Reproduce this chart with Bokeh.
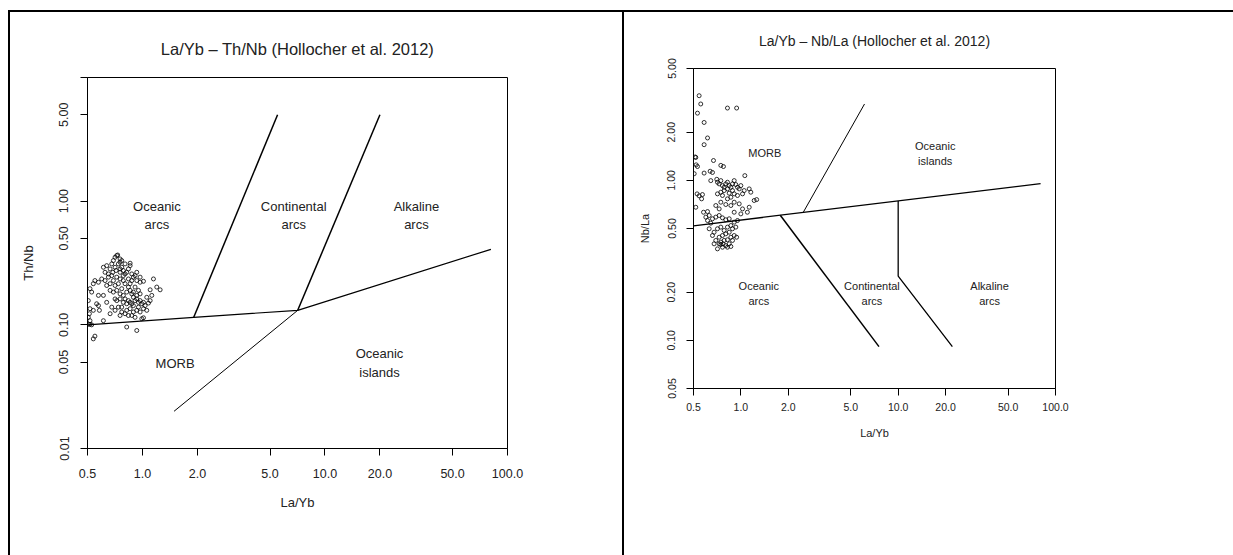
from bokeh.plotting import figure
from bokeh.layouts import row
from bokeh.models import FixedTicker, PrintfTickFormatter, Title, Range1d
from bokeh.core.properties import value
from bokeh.embed import file_html
from bokeh.resources import INLINE

FONT = "Liberation Sans"

# ---------------- data: left panel (La/Yb vs Th/Nb) ----------------
left_title = "La/Yb \u2013 Th/Nb (Hollocher et al. 2012)"
left_xlabel = "La/Yb"
left_ylabel = "Th/Nb"
x_ticks = [0.5, 1, 2, 5, 10, 20, 50, 100]
left_y_ticks = [0.01, 0.05, 0.1, 0.5, 1, 5, 10]

left_div_x = [0.5, 1.91, 7.09, 81.1]
left_div_y = [0.1, 0.115, 0.131, 0.408]
left_cont_x = [1.91, 5.5]
left_cont_y = [0.115, 5.0]
left_alk_x = [7.09, 20.0]
left_alk_y = [0.131, 5.0]
left_oib_x = [7.09, 1.49]
left_oib_y = [0.131, 0.02]

left_field_names = ["Oceanic\narcs", "Continental\narcs", "Alkaline\narcs", "MORB", "Oceanic\nislands"]
left_field_x = [1.2, 6.74, 31.7, 1.51, 19.9]
left_field_y = [0.766, 0.766, 0.766, 0.049, 0.049]

left_la_yb = [0.723, 0.708, 0.732, 0.693, 0.679, 0.611, 0.637, 0.665, 0.738, 0.754,
              0.770, 0.717, 0.754, 0.786, 0.803, 0.820, 0.856, 0.838, 0.874, 0.892,
              0.931, 0.971, 1.013, 1.149, 1.198, 1.250, 1.102, 1.125, 1.079, 1.013,
              0.971, 0.951, 0.931, 0.892, 0.856, 0.820, 0.786, 0.770, 0.754, 0.723,
              0.708, 0.693, 0.665, 0.637, 0.624, 0.598, 0.574, 0.549, 0.538, 0.516,
              0.527, 0.505, 0.516, 0.512, 0.505, 0.516, 0.527, 0.574, 0.581, 0.611,
              0.665, 0.754, 0.820, 0.874, 0.911, 0.992, 1.013, 1.056, 0.820, 0.931,
              0.549, 0.538, 0.574, 0.611, 0.665, 0.693, 0.723, 0.754, 0.786, 0.803,
              0.838, 0.856, 0.874, 0.892, 0.911, 0.931, 0.971, 0.951, 0.911, 0.856,
              0.820, 0.786, 0.754, 0.723, 0.708, 0.679, 0.651, 0.624, 0.738, 0.770,
              0.803, 0.838, 0.856, 0.874, 0.892, 0.931, 0.951, 0.992, 1.034, 0.838,
              0.874, 0.786, 0.754, 0.708, 0.688, 0.651, 0.538, 0.561, 0.637, 0.679,
              0.708, 0.738, 0.770, 0.803, 0.838, 0.892, 0.971, 1.013, 1.056, 1.102,
              0.931, 0.911, 0.971, 0.856, 0.803, 0.770, 0.754, 0.516, 0.505]
left_th_nb = [0.363, 0.352, 0.367, 0.331, 0.311, 0.292, 0.301, 0.283, 0.311, 0.321,
              0.292, 0.275, 0.266, 0.275, 0.258, 0.266, 0.315, 0.283, 0.258, 0.243,
              0.228, 0.221, 0.225, 0.235, 0.202, 0.192, 0.192, 0.173, 0.150, 0.152,
              0.157, 0.139, 0.131, 0.143, 0.135, 0.148, 0.152, 0.139, 0.162, 0.157,
              0.162, 0.184, 0.190, 0.208, 0.228, 0.235, 0.221, 0.228, 0.215, 0.196,
              0.184, 0.157, 0.135, 0.123, 0.115, 0.108, 0.100, 0.143, 0.131, 0.108,
              0.123, 0.119, 0.131, 0.119, 0.115, 0.112, 0.114, 0.131, 0.096, 0.090,
              0.081, 0.077, 0.173, 0.173, 0.215, 0.228, 0.243, 0.235, 0.228, 0.215,
              0.202, 0.190, 0.178, 0.167, 0.157, 0.162, 0.178, 0.190, 0.202, 0.215,
              0.184, 0.173, 0.178, 0.190, 0.208, 0.250, 0.258, 0.266, 0.215, 0.196,
              0.162, 0.157, 0.152, 0.148, 0.184, 0.173, 0.152, 0.148, 0.143, 0.235,
              0.228, 0.250, 0.283, 0.292, 0.266, 0.243, 0.131, 0.148, 0.152, 0.139,
              0.131, 0.139, 0.127, 0.123, 0.119, 0.127, 0.127, 0.135, 0.167, 0.157,
              0.266, 0.250, 0.243, 0.301, 0.311, 0.331, 0.341, 0.101, 0.101]

# ---------------- data: right panel (La/Yb vs Nb/La) ----------------
right_title = "La/Yb \u2013 Nb/La (Hollocher et al. 2012)"
right_xlabel = "La/Yb"
right_ylabel = "Nb/La"
right_y_ticks = [0.05, 0.1, 0.2, 0.5, 1, 2, 5]

right_div_x = [0.5, 80.4]
right_div_y = [0.52, 0.953]
right_oib_x = [2.49, 6.11]
right_oib_y = [0.630, 3.0]
right_cont_x = [1.78, 7.55]
right_cont_y = [0.605, 0.0913]
right_alk_x = [10.0, 10.0, 22.1]
right_alk_y = [0.743, 0.252, 0.0913]

right_field_names = ["MORB", "Oceanic\nislands", "Oceanic\narcs", "Continental\narcs", "Alkaline\narcs"]
right_field_x = [1.42, 17.2, 1.30, 6.81, 38.1]
right_field_y = [1.475, 1.475, 0.197, 0.197, 0.197]

right_la_yb = [0.543, 0.556, 0.530, 0.584, 0.822, 0.940, 0.614, 0.584, 0.517, 0.530,
               0.670, 0.584, 0.638, 0.660, 0.746, 0.775, 0.527, 0.543, 0.570, 0.563,
               0.517, 0.579, 0.614, 0.644, 0.703, 0.710, 0.728, 0.746, 0.764, 0.783,
               0.802, 0.822, 0.843, 0.864, 0.885, 0.907, 0.929, 0.952, 0.976, 1.000,
               1.060, 1.130, 1.157, 1.050, 1.025, 0.822, 0.783, 0.746, 0.710, 0.764,
               0.843, 0.885, 0.907, 0.952, 0.864, 0.822, 0.907, 0.976, 0.864, 0.802,
               0.746, 0.693, 0.728, 1.025, 1.100, 1.215, 1.260, 1.130, 1.000, 0.907,
               0.599, 0.629, 0.660, 0.693, 0.728, 0.764, 0.802, 0.843, 0.907, 0.952,
               0.614, 0.644, 0.629, 0.676, 0.710, 0.746, 0.783, 0.822, 0.864, 0.885,
               0.929, 0.843, 0.802, 0.764, 0.728, 0.660, 0.693, 0.728, 0.746, 0.783,
               0.822, 0.864, 0.907, 0.940, 0.885, 0.843, 0.802, 0.764, 0.710, 0.746,
               0.771, 0.822, 0.864, 0.676, 0.505, 0.512, 0.520]
right_nb_la = [3.38, 3.00, 2.63, 2.30, 2.83, 2.83, 1.84, 1.67, 1.39, 1.22,
               1.33, 1.11, 1.14, 1.12, 1.24, 1.22, 0.823, 0.800, 0.815, 0.766,
               0.679, 0.632, 0.638, 0.996, 1.015, 0.973, 0.950, 0.996, 0.927, 0.905,
               0.950, 0.973, 0.927, 0.905, 0.950, 0.996, 0.941, 0.905, 0.884, 0.927,
               1.070, 0.884, 0.843, 0.863, 0.823, 0.884, 0.863, 0.843, 0.823, 0.804,
               0.831, 0.863, 0.823, 0.804, 0.784, 0.766, 0.730, 0.713, 0.696, 0.706,
               0.730, 0.696, 0.663, 0.663, 0.632, 0.748, 0.758, 0.679, 0.617, 0.632,
               0.589, 0.603, 0.575, 0.589, 0.603, 0.583, 0.567, 0.575, 0.548, 0.561,
               0.561, 0.540, 0.498, 0.474, 0.498, 0.510, 0.486, 0.510, 0.522, 0.498,
               0.510, 0.474, 0.463, 0.452, 0.441, 0.452, 0.421, 0.401, 0.411, 0.421,
               0.425, 0.441, 0.452, 0.441, 0.421, 0.401, 0.391, 0.382, 0.373, 0.397,
               0.401, 0.382, 0.386, 0.401, 1.10, 1.40, 1.25]


def style_axes(p, y_ticks, tick_font, lab_font, x_std, x_lab_std, y_std, y_lab_std):
    p.xaxis.ticker = FixedTicker(ticks=x_ticks, minor_ticks=[])
    p.yaxis.ticker = FixedTicker(ticks=y_ticks, minor_ticks=[])
    p.xaxis.formatter = PrintfTickFormatter(format="%.1f")
    p.yaxis.formatter = PrintfTickFormatter(format="%.2f")
    for ax in (p.xaxis, p.yaxis):
        ax.major_tick_out = 7
        ax.major_tick_in = 0
        ax.minor_tick_out = 0
        ax.minor_tick_in = 0
        ax.axis_line_color = "black"
        ax.major_tick_line_color = "black"
        ax.major_label_text_font = FONT
        ax.major_label_text_font_size = tick_font
        ax.major_label_text_color = "#222222"
        ax.axis_label_text_font = FONT
        ax.axis_label_text_font_size = lab_font
        ax.axis_label_text_font_style = "normal"
        ax.axis_label_text_color = "#222222"
    p.xaxis.major_label_standoff = x_std
    p.xaxis.axis_label_standoff = x_lab_std
    p.yaxis.major_label_standoff = y_std
    p.yaxis.axis_label_standoff = y_lab_std
    p.yaxis.major_label_orientation = "vertical"
    p.xgrid.visible = False
    p.ygrid.visible = False
    p.outline_line_color = "black"
    p.outline_line_width = 1
    p.border_fill_color = None
    p.background_fill_color = "white"


# ---------------- left figure ----------------
p1 = figure(width=622, height=555, x_axis_type="log", y_axis_type="log",
            x_range=Range1d(0.5, 100), y_range=Range1d(0.01, 10),
            output_backend="svg", toolbar_location=None,
            min_border_left=87, min_border_right=115, min_border_top=77, min_border_bottom=107,
            x_axis_label=left_xlabel, y_axis_label=left_ylabel, frame_align=False)
p1.title = Title(text=left_title, align="center", text_font=FONT, text_font_size="16.5px",
                 text_font_style="normal", text_color="#222222", standoff=39)
style_axes(p1, left_y_ticks, "12.5px", "13px", 13, 14, 12, 21)
p1.yaxis.major_label_overrides = {10: ""}

p1.line(left_div_x, left_div_y, line_color="black", line_width=1.2)
p1.line(left_cont_x, left_cont_y, line_color="black", line_width=1.5)
p1.line(left_alk_x, left_alk_y, line_color="black", line_width=1.5)
p1.line(left_oib_x, left_oib_y, line_color="black", line_width=1)
p1.scatter(left_la_yb, left_th_nb, marker="circle", size=4, fill_color=None,
           line_color="black", line_width=0.8)
p1.text(left_field_x, left_field_y, text=left_field_names, text_font=value(FONT),
        text_font_size="13px", text_align="center", text_baseline="middle",
        text_color="#222222", text_line_height=1.25)

# ---------------- right figure ----------------
p2 = figure(width=611, height=555, x_axis_type="log", y_axis_type="log",
            x_range=Range1d(0.5, 100), y_range=Range1d(0.05, 5),
            output_backend="svg", toolbar_location=None,
            min_border_left=71, min_border_right=178, min_border_top=68, min_border_bottom=167,
            x_axis_label=right_xlabel, y_axis_label=right_ylabel, frame_align=False)
p2.title = Title(text=right_title, align="center", text_font=FONT, text_font_size="14px",
                 text_font_style="normal", text_color="#222222", standoff=40)
style_axes(p2, right_y_ticks, "10.5px", "11px", 7, 13, 11, 14)

p2.line(right_div_x, right_div_y, line_color="black", line_width=1.3)
p2.line(right_oib_x, right_oib_y, line_color="black", line_width=1)
p2.line(right_cont_x, right_cont_y, line_color="black", line_width=1.5)
p2.line(right_alk_x, right_alk_y, line_color="black", line_width=1.3)
p2.scatter(right_la_yb, right_nb_la, marker="circle", size=4, fill_color=None,
           line_color="black", line_width=0.8)
p2.text(right_field_x, right_field_y, text=right_field_names, text_font=value(FONT),
        text_font_size="11px", text_align="center", text_baseline="middle",
        text_color="#222222", text_line_height=1.25)

frame_css = ("linear-gradient(#000,#000) 8px 10px / 2px 600px no-repeat, "
             "linear-gradient(#000,#000) 8px 10px / 1300px 2px no-repeat, "
             "linear-gradient(#000,#000) 622px 10px / 2px 600px no-repeat, #fff")

layout = row(p1, p2, styles={"background": frame_css})
open("out.html", "w").write(file_html(layout, INLINE))
